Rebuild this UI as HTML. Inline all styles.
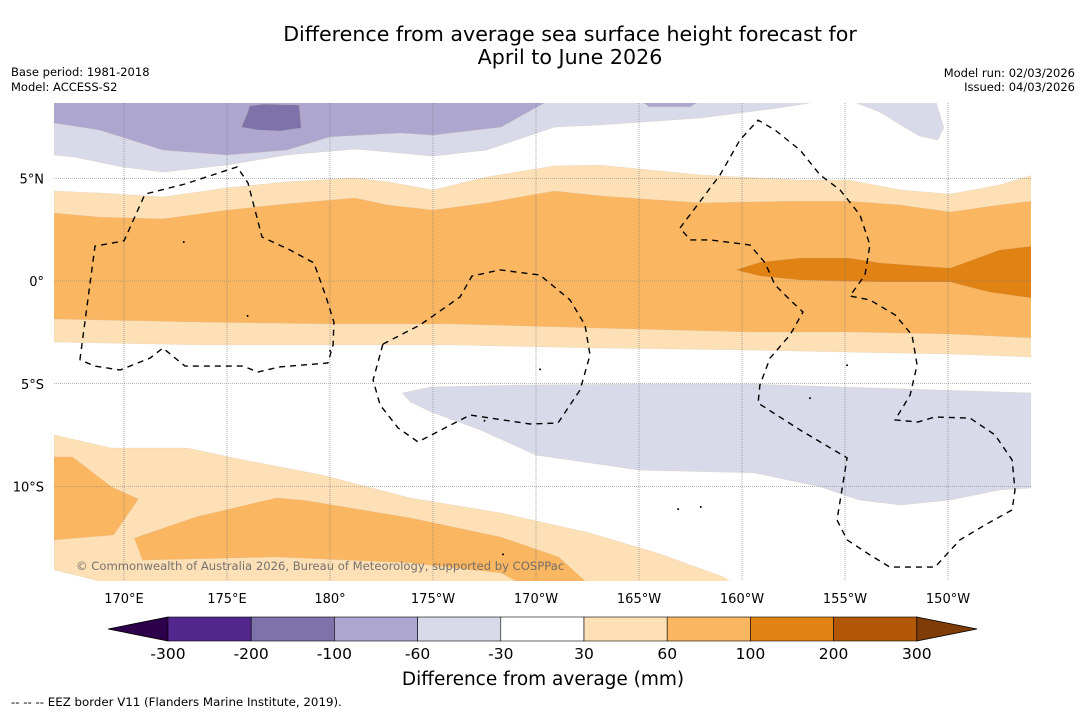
<!DOCTYPE html>
<html><head><meta charset="utf-8"><style>
body{margin:0;background:#fff;width:1085px;height:713px;overflow:hidden;font-family:"Liberation Sans","DejaVu Sans",sans-serif}
svg{position:absolute;left:0;top:0}
text{font-family:"DejaVu Sans","Liberation Sans",sans-serif}
</style></head><body>
<svg width="1085" height="713">
<text x="570" y="41" font-size="20.6" text-anchor="middle">Difference from average sea surface height forecast for</text>
<text x="570" y="64" font-size="20.6" text-anchor="middle">April to June 2026</text>
<text x="11" y="76" font-size="11.5">Base period: 1981-2018</text>
<text x="11" y="91" font-size="11.5">Model: ACCESS-S2</text>
<text x="1075" y="77" font-size="11.5" text-anchor="end">Model run: 02/03/2026</text>
<text x="1075" y="91" font-size="11.5" text-anchor="end">Issued: 04/03/2026</text>
<defs><clipPath id="mc"><rect x="54" y="103" width="977" height="478"/></clipPath></defs>
<g id="map" clip-path="url(#mc)"></g>
<g id="axes"></g>
<g id="cbar"></g>
<text x="543" y="685" font-size="18.5" text-anchor="middle">Difference from average (mm)</text>
<text x="11" y="706" font-size="11.8">--  --  -- EEZ border V11 (Flanders Marine Institute, 2019).</text>
</svg>
<script>
const NS="http://www.w3.org/2000/svg";
// color scale
const levels=[-300,-200,-100,-60,-30,30,60,100,200,300];
const bandColors=["#54278f","#7e72aa","#ada7cf","#d8d9e9","#ffffff","#fde0b6","#fab661","#e08214","#b35806"];
const extColors=["#2d004b","#7f3b08"];
// contour polygons [lon(E, 0-360), lat]
const lavLightTop=[[166.6,8.8],[203.3,8.8],[203.3,8.66],[201.8,8.42],[198,7.93],[193.1,7.59],[190.9,7.49],[187.6,6.37],[185,6.08],[182.8,6.28],[181.2,6.42],[177.9,6.13],[175,5.64],[171.9,5.3],[169.9,5.55],[167.6,6.03],[166.6,6.13]];
const lavMedTop=[[166.6,8.8],[190.4,8.8],[190.4,8.66],[188.3,7.49],[185,7.1],[183.4,7.2],[180,7.01],[177.9,6.37],[175,6.13],[171.9,6.37],[168.8,7.35],[166.6,7.69]];
const lavMedPatch=[[195.05,8.8],[197.96,8.8],[197.5,8.47],[195.5,8.47]];
const lavDarkPatch=[[176.1,8.52],[176.8,8.61],[178.5,8.56],[178.6,7.45],[177.6,7.3],[176.5,7.35],[175.7,7.49],[176.0,8.18]];
const lavRightPatch=[[205.2,8.8],[209.4,8.8],[209.8,7.45],[209.5,6.86],[208.6,7.06],[207.7,7.59],[206.7,8.22]];
const eqLons=[166.6,168.8,171.9,175,177.9,181.2,182.8,185,187.6,190.9,193.1,198,202.8,205.2,207.7,210.1,212.5,214.1];
const up30Lats=[4.38,4.28,4.09,4.53,4.82,5.01,4.82,4.43,5.06,5.6,5.64,5.16,4.91,4.91,4.43,4.23,4.67,5.16];
const up60Lats=[3.31,3.11,3.02,3.45,3.75,4.04,3.7,3.45,3.8,4.38,4.14,3.8,3.89,3.89,3.7,3.36,3.7,3.89];
const loLons=[166.6,173.7,180,185.8,193.1,200.4,205.2,210.1,214.1];
const lo60Lats=[-1.85,-2.0,-2.09,-2.09,-2.29,-2.48,-2.48,-2.58,-2.77];
const lo30Lats=[-2.97,-3.11,-3.11,-3.11,-3.26,-3.36,-3.46,-3.55,-3.7];
const orDarkPatch=[[199.7,0.54],[200.9,0.92],[202.8,1.12],[205.2,1.12],[206.7,0.88],[210.1,0.63],[212.5,1.51],[214.1,1.7],[214.1,-0.83],[212.0,-0.54],[210.1,-0.05],[206.7,-0.05],[202.8,0.05],[200.9,0.24]];
const lavLow=[[183.5,-5.45],[184.9,-5.16],[189.2,-5.06],[195.5,-5.01],[200.4,-5.01],[214.1,-5.45],[214.1,-10.07],[212.5,-10.17],[210.1,-10.66],[207.7,-10.9],[205.7,-10.66],[203.8,-10.02],[200.6,-9.34],[195.0,-9.2],[190.0,-8.47],[187.3,-7.25],[184.9,-6.37],[183.9,-5.89]];
const orLightLow=[[166.6,-7.49],[169.4,-8.13],[173.1,-8.13],[175.3,-8.61],[179.6,-9.44],[183.9,-10.56],[188.3,-11.29],[192.6,-12.26],[195.9,-13.24],[199.1,-14.4],[199.7,-14.8],[168.8,-14.8],[168.8,-14.6],[166.6,-14.06]];
const orLeftPatch=[[166.6,-8.56],[167.5,-8.56],[169.4,-10.02],[170.7,-10.61],[169.5,-12.36],[166.6,-12.6]];
const orBigPatch=[[170.5,-12.51],[173.5,-11.48],[177.4,-10.56],[178.7,-10.66],[183.9,-11.53],[188.3,-12.46],[191.1,-13.43],[192.6,-14.8],[189.4,-14.8],[188.3,-14.21],[183.9,-13.72],[177.4,-13.43],[170.9,-13.58]];
// EEZ borders
const eezA=[[167.86,-3.84],[168.59,1.7],[170.0,1.95],[171.02,4.23],[172.96,4.72],[175.49,5.55],[176.02,4.77],[176.7,2.14],[178.06,1.51],[179.22,0.88],[179.81,-0.78],[180.19,-2.0],[180.15,-3.11],[179.9,-3.99],[177.57,-4.18],[176.5,-4.43],[175.78,-4.14],[172.96,-4.14],[171.89,-3.26],[171.26,-3.75],[169.81,-4.33],[168.59,-4.14],[167.86,-3.84]];
const eezB=[[182.57,-3.07],[184.37,-2.14],[186.31,-0.78],[186.89,0.24],[188.25,0.54],[190.19,0.29],[191.65,-0.92],[192.38,-2.14],[192.62,-3.6],[192.14,-5.3],[191.07,-6.91],[189.71,-6.96],[186.8,-6.52],[184.27,-7.83],[183.3,-7.15],[182.43,-6.03],[182.09,-4.82],[182.57,-3.07]];
const eezC=[[196.99,2.58],[198.93,5.16],[199.9,6.86],[200.78,7.83],[201.6,7.35],[202.82,6.37],[203.79,5.16],[204.76,4.43],[205.73,3.21],[206.21,1.75],[205.97,0.29],[205.24,-0.73],[206.21,-0.92],[207.43,-1.65],[208.25,-2.63],[208.5,-4.09],[208.16,-5.55],[207.43,-6.76],[208.54,-6.86],[209.37,-6.62],[211.07,-6.67],[212.28,-7.49],[213.11,-8.71],[213.25,-10.17],[213.11,-11.14],[211.8,-11.87],[210.58,-12.6],[209.37,-13.92],[207.18,-13.92],[206.21,-13.33],[205.1,-12.6],[204.61,-11.63],[205.1,-8.61],[202.82,-7.25],[200.78,-5.94],[200.87,-5.06],[201.36,-3.75],[202.33,-2.63],[202.96,-1.51],[202.33,-0.92],[201.6,-0.19],[201.12,0.88],[200.39,1.75],[198.45,2.0],[197.48,2.0],[196.99,2.58]];
const islands=[[190.2,-4.3],[187.5,-6.8],[196.9,-11.1],[198.0,-11.0],[205.1,-4.1],[180.0,-3.4],[172.9,1.9],[176.0,-1.7],[188.4,-13.3],[203.3,-5.7]];
const lonTicks=[170,175,180,185,190,195,200,205,210];
const lonLabels=["170°E","175°E","180°","175°W","170°W","165°W","160°W","155°W","150°W"];
const latTicks=[5,0,-5,-10];
const latLabels=["5°N","0°","5°S","10°S"];

const X=lon=>330+(lon-180)*20.6;
const Y=lat=>281-lat*20.55;
function el(tag,attrs,parent){const e=document.createElementNS(NS,tag);for(const k in attrs)e.setAttribute(k,attrs[k]);parent.appendChild(e);return e;}
const map=document.getElementById('map');
const pts=a=>a.map(p=>X(p[0]).toFixed(1)+','+Y(p[1]).toFixed(1)).join(' ');
function poly(a,fill,name){const p=el('polygon',{points:pts(a),fill:fill,stroke:fill==="#ffffff"?"none":"#d4b79a",'stroke-width':0.4,'stroke-opacity':0.5},map);

return p;}
function band(lons,top,bot,fill,name){const a=lons.map((l,i)=>[l,top[i]]);const b=[];for(let i=bot.lons.length-1;i>=0;i--)b.push([bot.lons[i],bot.lats[i]]);return poly(a.concat(b),fill,name);}
// draw
poly(lavLightTop,bandColors[3],'contour-minus60-top');
poly(lavMedTop,bandColors[2],'contour-minus100-top');
poly(lavMedPatch,bandColors[2],'contour-minus100-patch');
poly(lavDarkPatch,bandColors[1],'contour-minus200-patch');
poly(lavRightPatch,bandColors[3],'contour-minus60-right');
band(eqLons,up30Lats,{lons:loLons,lats:lo30Lats},bandColors[5],'contour-30-band');
band(eqLons,up60Lats,{lons:loLons,lats:lo60Lats},bandColors[6],'contour-60-band');
poly(orDarkPatch,bandColors[7],'contour-100-patch');
poly(lavLow,bandColors[3],'contour-minus60-south');
poly(orLightLow,bandColors[5],'contour-30-south');
poly(orLeftPatch,bandColors[6],'contour-60-southwest');
poly(orBigPatch,bandColors[6],'contour-60-south');
islands.forEach(p=>{const c=el('circle',{cx:X(p[0]),cy:Y(p[1]),r:1,fill:'#000'},map);

});
// gridlines
lonTicks.forEach(l=>{const g=el('line',{x1:X(l),x2:X(l),y1:103,y2:581,stroke:'#777','stroke-width':0.6,'stroke-dasharray':'1,1'},map);

});
latTicks.forEach(l=>{const g=el('line',{x1:54,x2:1031,y1:Y(l),y2:Y(l),stroke:'#777','stroke-width':0.6,'stroke-dasharray':'1,1'},map);

});
[eezA,eezB,eezC].forEach(a=>{const p=el('polyline',{points:pts(a),fill:'none',stroke:'#000','stroke-width':1.4,'stroke-dasharray':'6,5'},map);

});
const cr=el('text',{x:76,y:570,'font-size':11.6,fill:'#666','fill-opacity':0.9},map);cr.textContent="© Commonwealth of Australia 2026, Bureau of Meteorology, supported by COSPPac";


// axes labels
const ax=document.getElementById('axes');
lonTicks.forEach((l,i)=>{const t=el('text',{x:X(l),y:603,'font-size':13,'text-anchor':'middle'},ax);t.textContent=lonLabels[i];

});
latTicks.forEach((l,i)=>{const t=el('text',{x:44,y:Y(l)+5,'font-size':13,'text-anchor':'end'},ax);t.textContent=latLabels[i];

});
// colorbar
const cb=document.getElementById('cbar');
const cx0=168,cw=83.2,cy0=617,ch=24;
const lt=el('polygon',{points:`108,${cy0+ch/2} ${cx0},${cy0} ${cx0},${cy0+ch}`,fill:extColors[0],stroke:'#000','stroke-width':0.8},cb);


bandColors.forEach((c,i)=>{const r=el('rect',{x:cx0+i*cw,y:cy0,width:cw,height:ch,fill:c,stroke:'#000','stroke-width':0.6},cb);

});
const xe=cx0+bandColors.length*cw;
const rt=el('polygon',{points:`${xe},${cy0} 977,${cy0+ch/2} ${xe},${cy0+ch}`,fill:extColors[1],stroke:'#000','stroke-width':0.8},cb);


levels.forEach((v,i)=>{const t=el('text',{x:cx0+i*cw,y:659,'font-size':15.5,'text-anchor':'middle'},cb);t.textContent=v;

});
</script>
</body></html>
